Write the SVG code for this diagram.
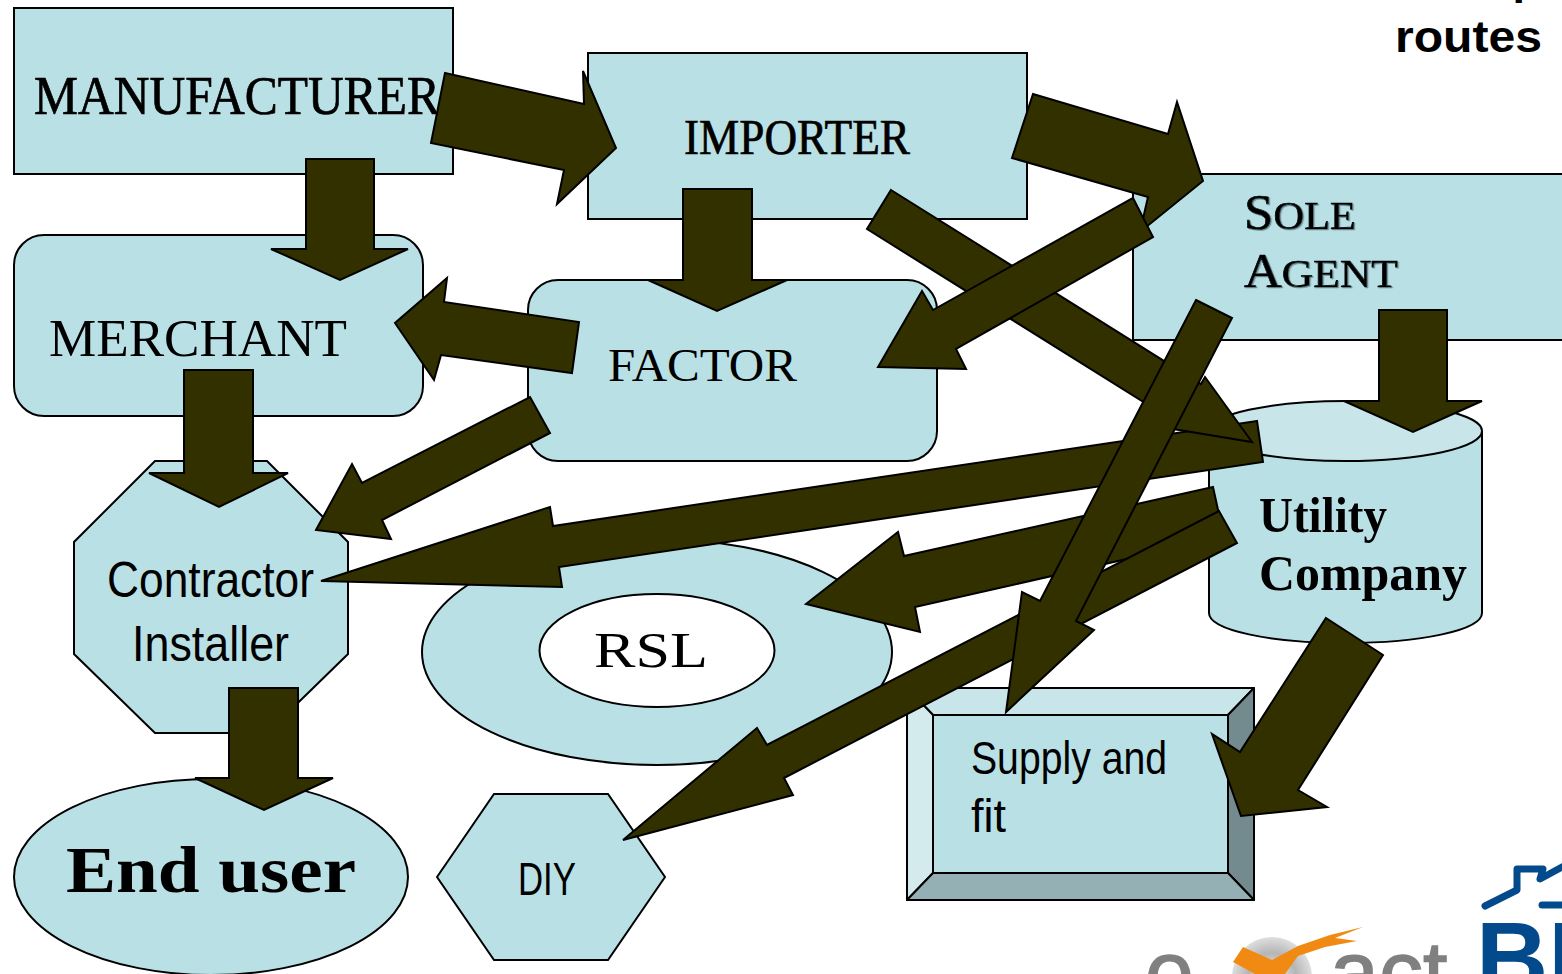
<svg xmlns="http://www.w3.org/2000/svg" width="1562" height="974" viewBox="0 0 1562 974">
<style>
.n{fill:#b9e0e5;stroke:#000;stroke-width:2}
.a{fill:#333000;stroke:#000;stroke-width:2;stroke-linejoin:miter}
.b{stroke:#000;stroke-width:2;stroke-linejoin:round}
.se{font-family:"Liberation Serif","Times New Roman",serif;fill:#000}
.h{stroke:#000;stroke-width:.7}
.sa{font-family:"Liberation Sans",Arial,sans-serif;fill:#000}
</style>
<defs>
<filter id="eng" x="-5%" y="-10%" width="110%" height="120%"><feDropShadow dx="1.2" dy="1" stdDeviation="0" flood-color="#6f9298"/></filter>
<radialGradient id="gl" cx="0.5" cy="0.5" r="0.5"><stop offset="0" stop-color="#f4f4f4"/><stop offset="0.6" stop-color="#b5b5b5"/><stop offset="1" stop-color="#dedede"/></radialGradient>
</defs>
<rect width="1562" height="974" fill="#fff"/>
<g id="title">
<text class="sa" x="1540" y="-6" text-anchor="end" font-size="45" font-weight="700">p</text>
<text class="sa" x="1395" y="52" font-size="45" font-weight="700" textLength="147" lengthAdjust="spacingAndGlyphs">routes</text>
</g>
<g id="logos">
<text x="1145" y="1002" font-family="Liberation Sans,Arial,sans-serif" font-size="88" fill="#808080" stroke="#808080" stroke-width="1.500">e</text>
<circle cx="1272" cy="977" r="40" fill="url(#gl)"/>
<text x="1330" y="1002" font-family="Liberation Sans,Arial,sans-serif" font-size="88" fill="#808080" stroke="#808080" stroke-width="1.500">act</text>
<polygon points="1243,947 1272,960 1298,946 1330,935 1363,927 1335,938 1357,941 1325,947 1298,956 1285,974 1255,974 1233,962" fill="#f08a12"/>
<path d="M1485,906L1517,890V869H1543L1540,879L1562,867M1542,905H1562" fill="none" stroke="#034a8c" stroke-width="7" stroke-linecap="round" stroke-linejoin="round"/>
<text x="1476" y="992" font-family="Liberation Sans,Arial,sans-serif" font-size="100" font-weight="700" fill="#034a8c">BM</text>
</g>
<g id="manufacturer">
<rect class="n" x="14" y="8" width="439" height="166"/>
<text class="se h" x="34" y="114" font-size="54" textLength="406" lengthAdjust="spacingAndGlyphs">MANUFACTURER</text>
</g>
<g id="importer">
<rect class="n" x="588" y="53" width="439" height="166"/>
<text class="se h" x="684" y="154" font-size="50" textLength="226" lengthAdjust="spacingAndGlyphs">IMPORTER</text>
</g>
<g id="sole-agent">
<rect class="n" x="1133" y="174" width="440" height="166"/>
<g filter="url(#eng)">
<text class="se h" x="1244" y="229" font-size="50" textLength="112" lengthAdjust="spacingAndGlyphs">S<tspan font-size="40">OLE</tspan></text>
<text class="se h" x="1244" y="287" font-size="48" textLength="154" lengthAdjust="spacingAndGlyphs">A<tspan font-size="40">GENT</tspan></text>
</g>
</g>
<g id="merchant">
<rect class="n" x="14" y="235" width="409" height="181" rx="30"/>
<text class="se" x="49" y="356" font-size="52" textLength="298" lengthAdjust="spacingAndGlyphs">MERCHANT</text>
</g>
<g id="factor">
<rect class="n" x="528" y="280" width="409" height="181" rx="30"/>
<text class="se" x="608" y="381" font-size="46" textLength="189" lengthAdjust="spacingAndGlyphs">FACTOR</text>
</g>
<g id="contractor-installer">
<polygon class="n" points="155,461 267,461 348,542 348,654 267,733 155,733 74,654 74,542"/>
<text class="sa" x="107" y="597" font-size="50" textLength="207" lengthAdjust="spacingAndGlyphs">Contractor</text>
<text class="sa" x="132" y="661" font-size="50" textLength="157" lengthAdjust="spacingAndGlyphs">Installer</text>
</g>
<g id="rsl-outer">
<ellipse class="n" cx="657" cy="652" rx="235" ry="113"/>
</g>
<g id="rsl">
<ellipse cx="657" cy="650.5" rx="117.500" ry="56.500" fill="#fff" stroke="#000" stroke-width="2"/>
<text class="se" x="594" y="667" font-size="50" textLength="114" lengthAdjust="spacingAndGlyphs">RSL</text>
</g>
<g id="utility-company">
<path class="n" d="M1209,431V613C1209,630 1270,643 1345.500,643S1482,630 1482,613V431"/>
<ellipse cx="1345.500" cy="431" rx="136.500" ry="30" fill="#c8e5e9" stroke="#000" stroke-width="2"/>
<text class="se" x="1259" y="532" font-size="50" font-weight="700" textLength="128" lengthAdjust="spacingAndGlyphs">Utility</text>
<text class="se" x="1259" y="590" font-size="50" font-weight="700" textLength="208" lengthAdjust="spacingAndGlyphs">Company</text>
</g>
<g id="supply-and-fit">
<polygon class="b" fill="#c8e5e9" points="907,688 1254,688 1228,715 933,715"/>
<polygon class="b" fill="#d4ebee" points="907,688 933,715 933,873 907,900"/>
<polygon class="b" fill="#738a8e" points="1254,688 1254,900 1228,873 1228,715"/>
<polygon class="b" fill="#94b0b4" points="907,900 933,873 1228,873 1254,900"/>
<rect class="n" x="933" y="715" width="295" height="158"/>
<text class="sa" x="971" y="774" font-size="46" textLength="196" lengthAdjust="spacingAndGlyphs">Supply and</text>
<text class="sa" x="971" y="832" font-size="46" textLength="35" lengthAdjust="spacingAndGlyphs">fit</text>
</g>
<g id="end-user">
<ellipse class="n" cx="211" cy="877" rx="197" ry="98"/>
<text class="se" x="66" y="892" font-size="66" font-weight="700" textLength="290" lengthAdjust="spacingAndGlyphs">End user</text>
</g>
<g id="diy">
<polygon class="n" points="437,877 494,794 608,794 665,877 608,960 494,960"/>
<text class="sa" x="518" y="895" font-size="46" textLength="58" lengthAdjust="spacingAndGlyphs">DIY</text>
</g>
<g id="connectors">
<polygon class="a" points="445,73 584,104 583,71 616,148 557,204 564,170 431,143"/>
<polygon class="a" points="1033,94 1168,134 1177,102 1203,181 1140,232 1148,197 1012,158"/>
<polygon class="a" points="306,159 374,159 374,249 408,249 340,280 271,249 306,249"/>
<polygon class="a" points="683,189 752,189 752,280 787,280 717,311 648,280 683,280"/>
<polygon class="a" points="579,322 572,373 441,355 434,380 395,323 447,278 444,302"/>
<polygon class="a" points="184,370 253,370 253,473 288,473 219,507 149,473 184,473"/>
<polygon class="a" points="229,688 298,688 298,778 333,778 264,810 195,778 229,778"/>
<polygon class="a" points="530,397 550,433 382,520 391,539 316,530 352,464 362,483"/>
<polygon class="a" points="1379,310 1447,310 1447,401 1482,401 1413,432 1344,401 1379,401"/>
<polygon class="a" points="1257,421 553,526 550,507 321,581 562,587 559,567 1263,462"/>
<polygon class="a" points="891,190 1201,384 1205,377 1252,442 1173,429 1177,423 867,229"/>
<polygon class="a" points="1133,198 1153,237 956,349 966,369 878,367 922,291 933,310"/>
<polygon class="a" points="1213,487 904,556 898,532 806,604 920,632 915,607 1224,537"/>
<polygon class="a" points="1219,511 767,745 757,728 623,840 793,795 784,778 1237,543"/>
<polygon class="a" points="1196,300 1232,318 1076,621 1094,630 1006,712 1022,592 1040,601"/>
<polygon class="a" points="1326,618 1383,655 1298,790 1327,807 1241,816 1212,734 1240,752"/>
</g>
</svg>
